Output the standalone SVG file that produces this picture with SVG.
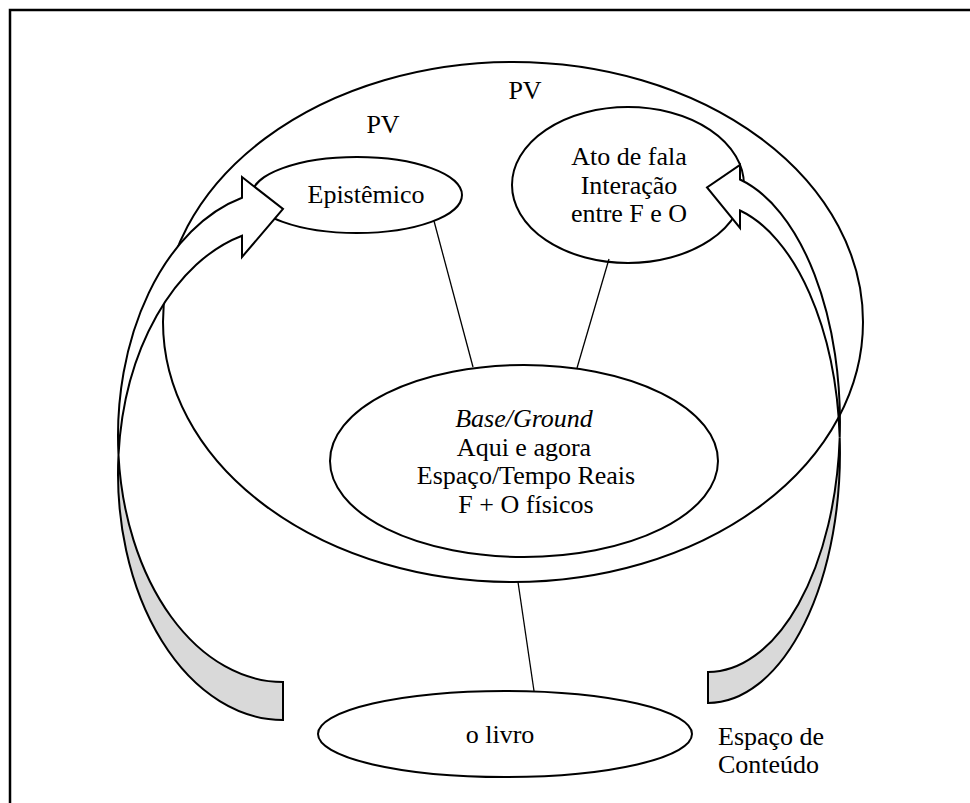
<svg xmlns="http://www.w3.org/2000/svg" width="970" height="803" viewBox="0 0 970 803">
<style>
.o{fill:#ffffff;stroke:#000000;stroke-width:2}
.t{font-family:"Liberation Serif","Times New Roman",serif;font-size:26px;fill:#000000;text-anchor:middle}
.s{text-anchor:start}
.i{font-style:italic}
.ln{stroke:#000000;stroke-width:1.3;fill:none}
.band{fill:#ffffff;stroke:#000000;stroke-width:2;stroke-linejoin:miter}
.back{fill:#d9d9d9;stroke:#000000;stroke-width:2}
</style>
<rect x="0" y="0" width="970" height="803" fill="#ffffff"/>
<rect id="frame" x="10" y="10" width="975" height="810" fill="none" stroke="#000000" stroke-width="2.5"/>
<g id="pv-outer">
<ellipse class="o" cx="513" cy="322" rx="350" ry="260"/>
<text class="t" x="525" y="99">PV</text>
</g>
<g id="pv-label">
<text class="t" x="383" y="133">PV</text>
</g>
<g id="epistemico">
<ellipse class="o" cx="357" cy="195" rx="105" ry="38"/>
<text class="t" x="366" y="203">Epistêmico</text>
</g>
<g id="ato-de-fala">
<ellipse class="o" cx="628" cy="185" rx="116" ry="78"/>
<text class="t" x="629" y="165">Ato de fala</text>
<text class="t" x="629" y="193.5">Interação</text>
<text class="t" x="629" y="222">entre F e O</text>
</g>
<g id="base">
<ellipse class="o" cx="524" cy="461" rx="194" ry="96"/>
<text class="t i" x="524" y="427">Base/Ground</text>
<text class="t" x="524" y="456">Aqui e agora</text>
<text class="t" x="526" y="484">Espaço/Tempo Reais</text>
<text class="t" x="526" y="513">F + O físicos</text>
</g>
<g id="o-livro">
<ellipse class="o" cx="505" cy="734" rx="187" ry="43"/>
<text class="t" x="500" y="743">o livro</text>
</g>
<g id="espaco-conteudo">
<text class="t s" x="718" y="745">Espaço de</text>
<text class="t s" x="718" y="773">Conteúdo</text>
</g>
<g id="connectors">
<line class="ln" x1="434" y1="221" x2="473" y2="367"/>
<line class="ln" x1="609" y1="259" x2="577" y2="368"/>
<line class="ln" x1="518" y1="582" x2="534" y2="691"/>
<g id="arrow-left">
<path class="back" d="M118.5,455 A165,246 0 0 0 283,682 L283,720 A165,246 0 0 1 118.5,455 Z"/>
<path class="band" d="M242,197.7 A165,246 0 0 0 118.5,455 A165,246 0 0 1 242,235.7 L242,257 L283,209 L242,177 Z"/>
</g>
<g id="arrow-right">
<path class="back" d="M839.7,437.5 A132,250 0 0 1 708,672 L708,703 A132,250 0 0 0 839.7,437.5 Z"/>
<path class="band" d="M740,179.5 A132,250 0 0 1 839.7,437.5 A132,250 0 0 0 740,210.5 L740,228 L707,187.5 L740,165 Z"/>
</g>
</g>
</svg>
